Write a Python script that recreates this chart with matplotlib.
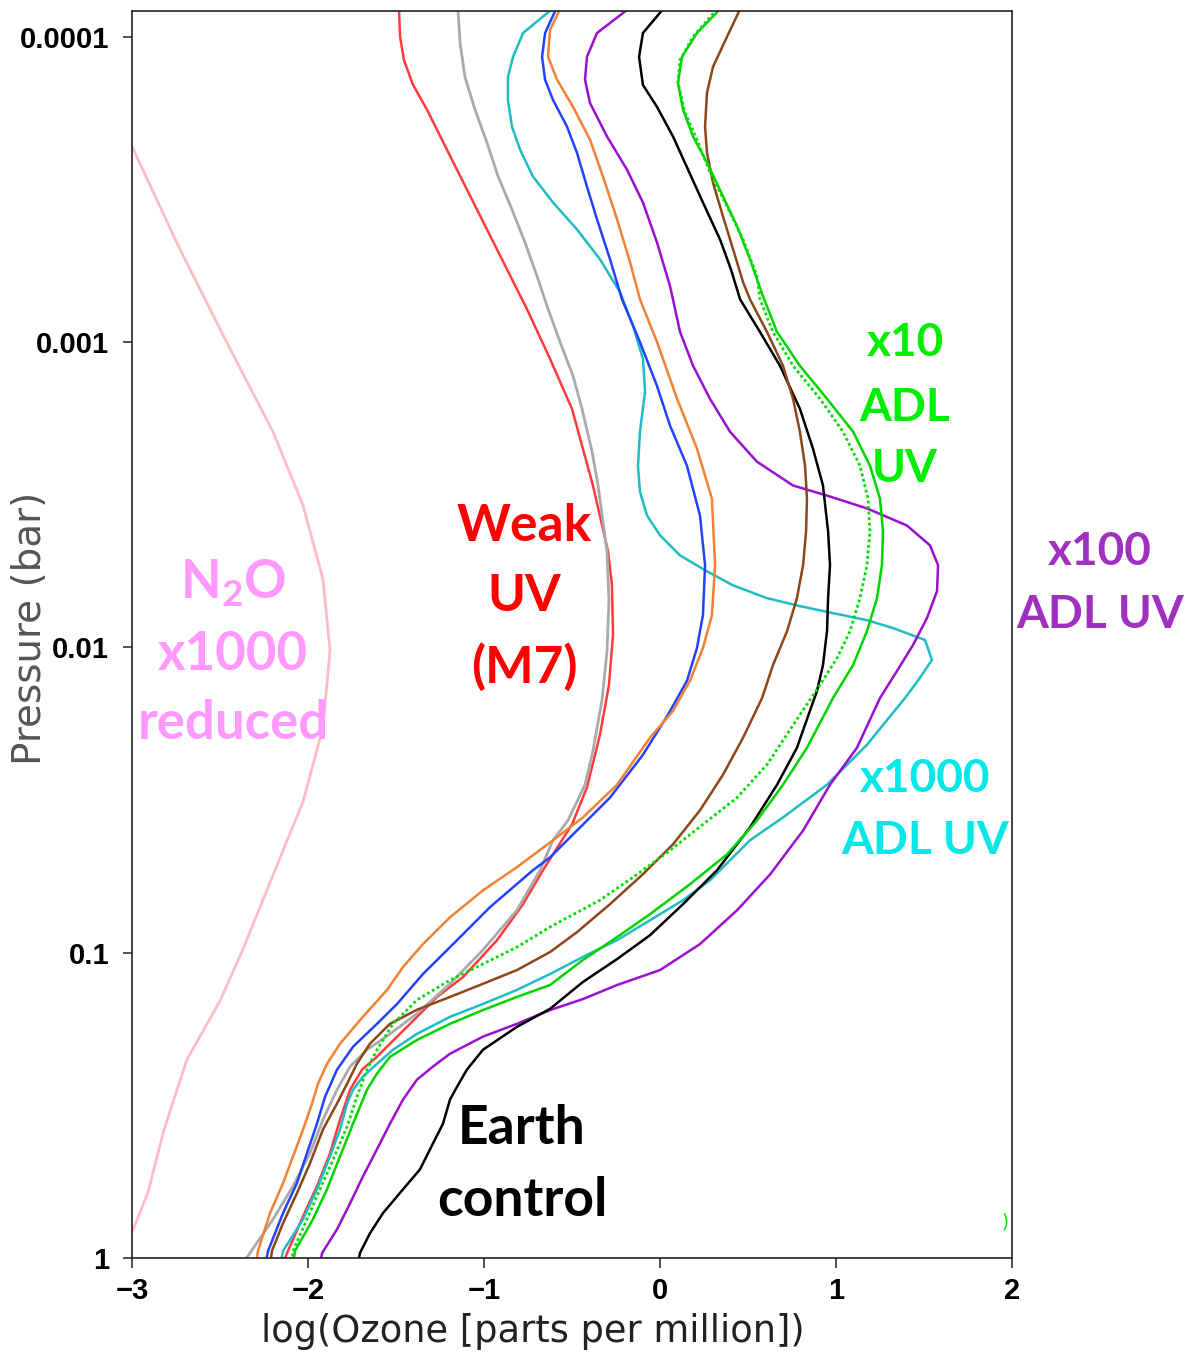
import numpy as np
import matplotlib
matplotlib.use("Agg")
import matplotlib.pyplot as plt
from matplotlib.ticker import NullLocator

plt.rcParams['mathtext.fontset'] = 'custom'
plt.rcParams['mathtext.rm'] = 'Lato:bold'
plt.rcParams['mathtext.bf'] = 'Lato:bold'
plt.rcParams['mathtext.it'] = 'Lato:bold'

# ---------------- data: log10(pressure [bar]) and log10(ozone [ppm]) ----------------
pink_logp = [-3.725, -3.310, -2.997, -2.706, -2.465, -2.223, -1.991, -1.737, -1.495, -1.254,
             -1.012, -0.842, -0.650, -0.552, -0.408, -0.215, -0.068, 0.0]
pink_x = [-3.068, -2.733, -2.460, -2.199, -2.028, -1.915, -1.875, -1.915, -2.028, -2.199,
          -2.369, -2.500, -2.688, -2.744, -2.824, -2.909, -3.011, -3.045]

red_logp = [-4.09, -4.0, -3.924, -3.843, -3.761, -3.597, -3.434, -3.271, -3.108, -2.945,
            -2.781, -2.530, -2.314, -2.203, -2.040, -1.877, -1.714, -1.541, -1.420, -1.322,
            -1.270, -1.159, -1.041, -0.920, -0.855, -0.767, -0.702, -0.659, -0.617, -0.551,
            -0.453, -0.343, -0.235, -0.137, -0.016, 0.0]
red_x = [-1.483, -1.477, -1.455, -1.404, -1.324, -1.182, -1.040, -0.898, -0.756, -0.625,
         -0.500, -0.381, -0.295, -0.273, -0.267, -0.290, -0.341, -0.415, -0.500, -0.608,
         -0.665, -0.778, -0.926, -1.119, -1.267, -1.420, -1.534, -1.608, -1.693, -1.761,
         -1.818, -1.875, -1.949, -2.028, -2.119, -2.13]

gray_logp = [-4.09, -3.979, -3.868, -3.761, -3.653, -3.542, -3.434, -3.326, -3.216, -3.108,
             -3.000, -2.889, -2.781, -2.641, -2.530, -2.314, -2.151, -1.988, -1.825, -1.661,
             -1.550, -1.433, -1.368, -1.270, -1.139, -1.009, -0.898, -0.800, -0.734, -0.682,
             -0.627, -0.551, -0.453, -0.343, -0.235, -0.127, -0.016, 0.0]
gray_x = [-1.148, -1.136, -1.108, -1.051, -0.983, -0.920, -0.841, -0.767, -0.699, -0.636,
          -0.568, -0.494, -0.443, -0.386, -0.352, -0.301, -0.290, -0.301, -0.330, -0.381,
          -0.426, -0.523, -0.608, -0.682, -0.813, -1.006, -1.193, -1.381, -1.534, -1.665,
          -1.761, -1.835, -1.915, -1.989, -2.085, -2.199, -2.330, -2.35]

cyan_logp = [-4.09, -4.012, -3.934, -3.868, -3.793, -3.705, -3.630, -3.542, -3.457, -3.369,
             -3.271, -3.163, -3.052, -2.945, -2.837, -2.706, -2.595, -2.510, -2.432, -2.367,
             -2.301, -2.249, -2.203, -2.161, -2.135, -2.112, -2.089, -2.063, -2.024, -1.959,
             -1.900, -1.834, -1.681, -1.550, -1.443, -1.368, -1.237, -1.172, -1.106, -1.041,
             -0.986, -0.930, -0.878, -0.832, -0.790, -0.734, -0.682, -0.636, -0.594, -0.551,
             -0.506, -0.421, -0.333, -0.225, -0.127, -0.023, 0.0]
cyan_x = [-0.614, -0.778, -0.835, -0.864, -0.864, -0.841, -0.795, -0.722, -0.608, -0.472,
          -0.341, -0.227, -0.153, -0.097, -0.085, -0.114, -0.125, -0.114, -0.074, 0.0,
          0.114, 0.267, 0.415, 0.608, 0.795, 0.983, 1.176, 1.324, 1.506, 1.545,
          1.477, 1.392, 1.176, 0.949, 0.699, 0.511, 0.284, 0.131, -0.057, -0.244,
          -0.438, -0.625, -0.813, -1.006, -1.193, -1.381, -1.517, -1.608, -1.688, -1.744,
          -1.778, -1.818, -1.875, -1.949, -2.028, -2.142, -2.15]

blue_logp = [-4.09, -4.012, -3.934, -3.859, -3.793, -3.705, -3.620, -3.509, -3.402, -3.271,
             -3.140, -3.000, -2.856, -2.726, -2.595, -2.432, -2.269, -2.106, -1.998, -1.890,
             -1.779, -1.648, -1.508, -1.400, -1.312, -1.270, -1.149, -1.018, -0.930, -0.832,
             -0.767, -0.692, -0.617, -0.528, -0.440, -0.343, -0.245, -0.147, -0.023, 0.0]
blue_x = [-0.591, -0.653, -0.670, -0.653, -0.608, -0.528, -0.472, -0.415, -0.358, -0.284,
          -0.216, -0.114, -0.017, 0.057, 0.153, 0.227, 0.256, 0.244, 0.210, 0.153,
          0.045, -0.097, -0.284, -0.472, -0.625, -0.722, -0.966, -1.193, -1.347, -1.494,
          -1.608, -1.744, -1.835, -1.903, -1.949, -2.006, -2.063, -2.142, -2.227, -2.235]

orange_logp = [-4.09, -4.022, -3.934, -3.859, -3.770, -3.663, -3.542, -3.402, -3.261, -3.140,
               -3.000, -2.814, -2.651, -2.487, -2.269, -2.105, -1.998, -1.890, -1.792, -1.704,
               -1.550, -1.443, -1.368, -1.280, -1.204, -1.116, -1.028, -0.953, -0.878, -0.790,
               -0.702, -0.636, -0.571, -0.506, -0.421, -0.333, -0.245, -0.147, -0.023, 0.0]
orange_x = [-0.568, -0.625, -0.636, -0.585, -0.494, -0.398, -0.324, -0.244, -0.170, -0.114,
            -0.017, 0.097, 0.210, 0.295, 0.313, 0.295, 0.244, 0.170, 0.074, -0.057,
            -0.244, -0.438, -0.608, -0.813, -1.006, -1.193, -1.347, -1.460, -1.551, -1.688,
            -1.818, -1.892, -1.943, -1.977, -2.028, -2.085, -2.142, -2.216, -2.284, -2.29]

purple_logp = [-4.09, -4.012, -3.934, -3.859, -3.783, -3.673, -3.565, -3.457, -3.326, -3.183,
               -3.033, -2.922, -2.814, -2.706, -2.608, -2.530, -2.497, -2.455, -2.399, -2.334,
               -2.269, -2.184, -2.096, -2.008, -1.923, -1.834, -1.671, -1.550, -1.400, -1.256,
               -1.139, -1.028, -0.943, -0.894, -0.848, -0.812, -0.767, -0.725, -0.669, -0.627,
               -0.584, -0.519, -0.440, -0.356, -0.267, -0.179, -0.094, -0.016, 0.0]
purple_x = [-0.182, -0.358, -0.415, -0.426, -0.398, -0.301, -0.188, -0.097, -0.017, 0.057,
            0.114, 0.188, 0.284, 0.398, 0.551, 0.756, 0.949, 1.176, 1.403, 1.534,
            1.580, 1.574, 1.517, 1.438, 1.347, 1.250, 1.119, 0.966, 0.813, 0.625,
            0.438, 0.227, 0.0, -0.244, -0.438, -0.625, -0.813, -1.006, -1.193, -1.290,
            -1.381, -1.460, -1.534, -1.608, -1.688, -1.761, -1.835, -1.920, -1.925]

black_logp = [-4.09, -4.012, -3.934, -3.842, -3.770, -3.673, -3.565, -3.457, -3.336, -3.238,
              -3.140, -3.033, -2.922, -2.781, -2.651, -2.530, -2.380, -2.269, -2.161, -2.053,
              -1.942, -1.857, -1.802, -1.671, -1.550, -1.410, -1.270, -1.159, -1.057, -0.979,
              -0.904, -0.816, -0.757, -0.682, -0.617, -0.561, -0.519, -0.440, -0.375, -0.290,
              -0.225, -0.147, -0.081, -0.016, 0.0]
black_x = [0.017, -0.097, -0.119, -0.097, -0.017, 0.074, 0.159, 0.244, 0.341, 0.403,
           0.455, 0.568, 0.682, 0.795, 0.869, 0.926, 0.955, 0.966, 0.955, 0.949,
           0.926, 0.892, 0.858, 0.778, 0.665, 0.511, 0.324, 0.131, -0.057, -0.244,
           -0.438, -0.625, -0.813, -1.006, -1.097, -1.153, -1.193, -1.233, -1.290, -1.364,
           -1.460, -1.574, -1.648, -1.705, -1.71]

green_logp = [-4.09, -4.012, -3.934, -3.849, -3.761, -3.673, -3.588, -3.477, -3.379, -3.271,
              -3.150, -3.033, -2.922, -2.814, -2.706, -2.595, -2.487, -2.380, -2.269, -2.161,
              -2.053, -1.942, -1.834, -1.671, -1.550, -1.433, -1.322, -1.224, -1.126, -1.051,
              -0.976, -0.894, -0.855, -0.812, -0.767, -0.714, -0.659, -0.604, -0.551, -0.440,
              -0.333, -0.225, -0.127, -0.023, 0.0]
green_x = [0.341, 0.210, 0.125, 0.102, 0.131, 0.188, 0.267, 0.358, 0.438, 0.511,
           0.585, 0.665, 0.795, 0.949, 1.097, 1.193, 1.250, 1.267, 1.261, 1.233,
           1.176, 1.097, 0.983, 0.835, 0.699, 0.551, 0.381, 0.170, -0.057, -0.244,
           -0.438, -0.625, -0.813, -1.006, -1.193, -1.381, -1.534, -1.608, -1.665, -1.744,
           -1.818, -1.892, -1.972, -2.074, -2.08]

greendot_logp = [-4.09, -4.0, -3.924, -3.849, -3.751, -3.663, -3.555, -3.444, -3.336, -3.216,
                 -3.140, -3.033, -2.922, -2.814, -2.706, -2.595, -2.487, -2.380, -2.269, -2.161,
                 -2.053, -1.965, -1.877, -1.779, -1.616, -1.508, -1.420, -1.335, -1.247, -1.172,
                 -1.084, -1.018, -0.963, -0.910, -0.845, -0.767, -0.682, -0.617, -0.528, -0.430,
                 -0.322, -0.225, -0.127, -0.023, 0.0]
greendot_x = [0.324, 0.188, 0.114, 0.102, 0.142, 0.210, 0.284, 0.381, 0.472, 0.551,
              0.568, 0.642, 0.756, 0.909, 1.040, 1.136, 1.182, 1.193, 1.176, 1.136,
              1.080, 1.006, 0.909, 0.795, 0.608, 0.438, 0.244, 0.057, -0.153, -0.341,
              -0.625, -0.813, -1.006, -1.193, -1.381, -1.517, -1.608, -1.665, -1.722, -1.778,
              -1.858, -1.932, -2.006, -2.085, -2.09]

brown_logp = [-4.09, -4.0, -3.901, -3.816, -3.705, -3.620, -3.522, -3.411, -3.304, -3.196,
              -3.140, -3.033, -2.922, -2.814, -2.706, -2.595, -2.487, -2.380, -2.269, -2.161,
              -2.053, -1.942, -1.834, -1.704, -1.583, -1.466, -1.355, -1.257, -1.159, -1.067,
              -1.002, -0.943, -0.898, -0.855, -0.813, -0.767, -0.702, -0.636, -0.571, -0.506,
              -0.421, -0.310, -0.212, -0.114, -0.023, 0.0]
brown_x = [0.455, 0.381, 0.301, 0.267, 0.256, 0.267, 0.301, 0.358, 0.415, 0.472,
           0.511, 0.608, 0.699, 0.756, 0.795, 0.824, 0.835, 0.830, 0.813, 0.778,
           0.722, 0.642, 0.580, 0.472, 0.358, 0.227, 0.074, -0.097, -0.284, -0.472,
           -0.625, -0.813, -1.006, -1.193, -1.381, -1.534, -1.648, -1.722, -1.778, -1.835,
           -1.915, -1.989, -2.063, -2.142, -2.205, -2.21]

# axis ticks
x_ticks = [-3, -2, -1, 0, 1, 2]
x_tick_labels = ['\u22123', '\u22122', '\u22121', '0', '1', '2']
y_ticks = [1e-4, 1e-3, 1e-2, 1e-1, 1.0]
y_tick_labels = ['0.0001', '0.001', '0.01', '0.1', '1']

# annotation lines: text, x (log ozone), log10(p) of baseline, colour, size
label_text = [r'$\mathbf{N_2O}$', 'x1000', 'reduced',
              'Weak', 'UV', '(M7)',
              'x10', 'ADL', 'UV',
              'x100', 'ADL UV',
              'x1000', 'ADL UV',
              'Earth', 'control']
label_x = [-2.426, -2.426, -2.426,
           -0.773, -0.773, -0.773,
           1.392, 1.392, 1.392,
           2.5, 2.5,
           1.506, 1.506,
           -0.784, -0.784]
label_logp = [-2.161, -1.926, -1.701,
              -2.347, -2.119, -1.884,
              -2.954, -2.742, -2.540,
              -2.269, -2.063,
              -1.525, -1.322,
              -0.372, -0.137]
label_color = ['#ff99ff'] * 3 + ['#ff0000'] * 3 + ['#00ee00'] * 3 + ['#a030c0'] * 2 + \
              ['#00e8e8'] * 2 + ['#000000'] * 2
label_size = [38] * 3 + [37] * 3 + [33] * 7 + [38.5] * 2

# ---------------- figure ----------------
fig = plt.figure(figsize=(11.87, 13.59), dpi=100)
fig.patch.set_facecolor('white')
ax = fig.add_axes([132 / 1187, 101 / 1359, 880 / 1187, 1247 / 1359])

profiles = [
    (pink_x, pink_logp, '#ffbcc8', '-', 2.0),
    (red_x, red_logp, '#ff3b3b', '-', 1.8),
    (gray_x, gray_logp, '#aaaaaa', '-', 2.0),
    (cyan_x, cyan_logp, '#1fbcc4', '-', 1.8),
    (blue_x, blue_logp, '#2342ff', '-', 1.8),
    (orange_x, orange_logp, '#f28133', '-', 1.8),
    (purple_x, purple_logp, '#9a10d0', '-', 1.8),
    (black_x, black_logp, '#000000', '-', 1.8),
    (brown_x, brown_logp, '#8b4718', '-', 1.8),
    (green_x, green_logp, '#00d400', '-', 1.8),
    (greendot_x, greendot_logp, '#00dd00', (0, (1.0, 1.0)), 2.0),
]
for xs, lps, col, ls, lw in profiles:
    ax.plot(xs, 10 ** np.array(lps), color=col, linestyle=ls, linewidth=lw,
            solid_joinstyle='round')

ax.set_yscale('log')
ax.set_xlim(-3, 2)
ax.set_ylim(1.0, 8.24e-5)
ax.set_yticks(y_ticks)
ax.set_yticklabels(y_tick_labels)
ax.set_xticks(x_ticks)
ax.set_xticklabels(x_tick_labels)
ax.yaxis.set_minor_locator(NullLocator())
ax.xaxis.set_minor_locator(NullLocator())

for sp in ax.spines.values():
    sp.set_linewidth(1.2)
    sp.set_color('#222222')

ax.tick_params(axis='y', which='major', direction='out', length=6.5, width=1.1,
               pad=10.0, left=True, right=False, colors='#222222', labelcolor='black')
ax.tick_params(axis='x', which='major', direction='out', length=7, width=1.1,
               pad=7, bottom=True, top=False, colors='#222222', labelcolor='black')
for lab in ax.get_yticklabels() + ax.get_xticklabels():
    lab.set_fontfamily('Liberation Sans')
    lab.set_fontweight('bold')
    lab.set_fontsize(21)

fig.text(533 / 1187, 1 - 1332 / 1359, 'log(Ozone [parts per million])', ha='center', va='center',
         fontsize=26.5, family='DejaVu Sans', color='#222222')
fig.text(30 / 1187, 1 - 628 / 1359, 'Pressure (bar)', ha='center', va='center', rotation=90,
         fontsize=28, family='DejaVu Sans', color='#555555')

for t, lx, lp, col, sz in zip(label_text, label_x, label_logp, label_color, label_size):
    ax.text(lx, 10 ** lp, t, ha='center', va='baseline', color=col, fontsize=sz,
            family='Lato', fontweight='bold', clip_on=False)

# small green mark at the right edge
ax.text(1.96, 10 ** -0.12, ')', ha='center', va='center', color='#00dd00', fontsize=14,
        family='Lato', clip_on=False)

fig.savefig('out.png', dpi=100, facecolor='white')
